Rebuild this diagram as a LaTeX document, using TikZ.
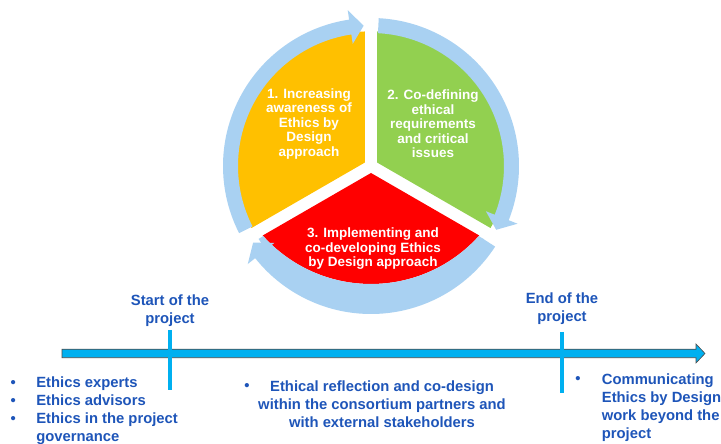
\documentclass[tikz,border=0pt]{standalone}
\usepackage{fontspec}
\setmainfont{Liberation Sans}
\usetikzlibrary{calc}
\definecolor{ringblue}{RGB}{169,209,242}
\definecolor{segY}{RGB}{255,192,0}
\definecolor{segG}{RGB}{146,208,80}
\definecolor{segR}{RGB}{255,0,0}
\definecolor{tlcyan}{RGB}{0,176,240}
\definecolor{txtblue}{RGB}{30,85,185}
\begin{document}
\begin{tikzpicture}[x=1pt,y=1pt]
\tikzset{
  segtext/.style={text=white, font=\fontsize{13.5}{14.5}\selectfont\bfseries, align=center},
  bluetext/.style={text=txtblue, font=\fontsize{14.8}{18}\selectfont\bfseries},
  ringband/.style={fill=ringblue},
  tickline/.style={draw=tlcyan, line width=4pt},
  timebar/.style={fill=tlcyan, draw=black!70, line width=0.6pt},
}
\useasboundingbox (0,0) rectangle (721,444);
\fill[white] (0,0) rectangle (721,444);

\begin{scope}[shift={(371,278)}]
  % pie segments
  \fill[segY] (150:7) -- ++(90:131) arc[start angle=90,end angle=210,radius=131] -- cycle;
  \fill[segG] (30:7) -- ++(90:131) arc[start angle=90,end angle=-30,radius=131] -- cycle;
  \fill[segR] (270:7) -- ++(210:125) arc[start angle=221.75,end angle=318.25,radius=145.1] -- cycle;
  % ring arrows
  \fill[ringband] (207:148) arc[start angle=207,end angle=98.5,radius=148] -- (98.5:157.5) -- (93:140.5) -- (98.5:123.5) -- (98.5:133) arc[start angle=98.5,end angle=207,radius=133] -- cycle;
  \fill[ringband] (87:148) arc[start angle=87,end angle=-21.5,radius=148] -- (-21.5:157.5) -- (-27:140.5) -- (-21.5:123.5) -- (-21.5:133) arc[start angle=-21.5,end angle=87,radius=133] -- cycle;
  \fill[ringband] (-33:148) arc[start angle=-33,end angle=-141.5,radius=148] -- (-141.5:157.5) -- (-147:140.5) -- (-141.5:123.5) -- (-141.5:133) arc[start angle=-141.5,end angle=-33,radius=133] -- cycle;
  \begin{scope}
    \clip (0,0) -- (-33:200) -- (-90:200) -- (-147:200) -- cycle;
    \fill[ringblue, even odd rule] (0,0) circle[radius=134] (0,27.1) circle[radius=145.1];
  \end{scope}
\end{scope}

% segment texts
\node[segtext] (t1) at (309,320) {1. Increasing\\awareness of\\Ethics by\\Design\\approach};
\node[segtext] (t2) at (433,320) {2. Co-defining\\ethical\\requirements\\and critical\\issues};
\node[segtext] (t3) at (373,195.3) {3. Implementing and\\co-developing Ethics\\by Design approach};

% timeline
\coordinate (tlA) at (62,90.5);
\coordinate (tlB) at (705,90.5);
\draw[timebar] (tlA) ++(0,4.25) -- ++(634,0) -- ++(0,5.25) -- (tlB) -- ++(-9,-9.5) -- ++(0,5.25) -- ++(-634,0) -- cycle;

\coordinate (s1) at (170,114);
\coordinate (s2) at (170,54);
\draw[tickline] (s1) -- (s2);
\coordinate (e1) at (562,112);
\coordinate (e2) at (562,51);
\draw[tickline] (e1) -- (e2);

\node[bluetext, align=center] (start) at (170,133) {Start of the\\project};
\node[bluetext, align=center] (end) at (562,135) {End of the\\project};

\node[bluetext, anchor=west, inner sep=0pt] (left) at (10.5,32.9) {\begin{tabular}{@{}l@{\hspace{20.5pt}}l@{}}•&Ethics experts\\•&Ethics advisors\\•&Ethics in the project\\&governance\end{tabular}};

\node[bluetext] (midbullet) at (247,57.3) {•};
\node[bluetext, align=center] (mid) at (382,39.7) {Ethical reflection and co-design\\within the consortium partners and\\with external stakeholders};

\node[bluetext] (rightbullet) at (578,64) {•};
\node[bluetext, align=left, anchor=west, inner sep=0pt] (right) at (601.7,36.5) {Communicating\\Ethics by Design\\work beyond the\\project};
\end{tikzpicture}
\end{document}
